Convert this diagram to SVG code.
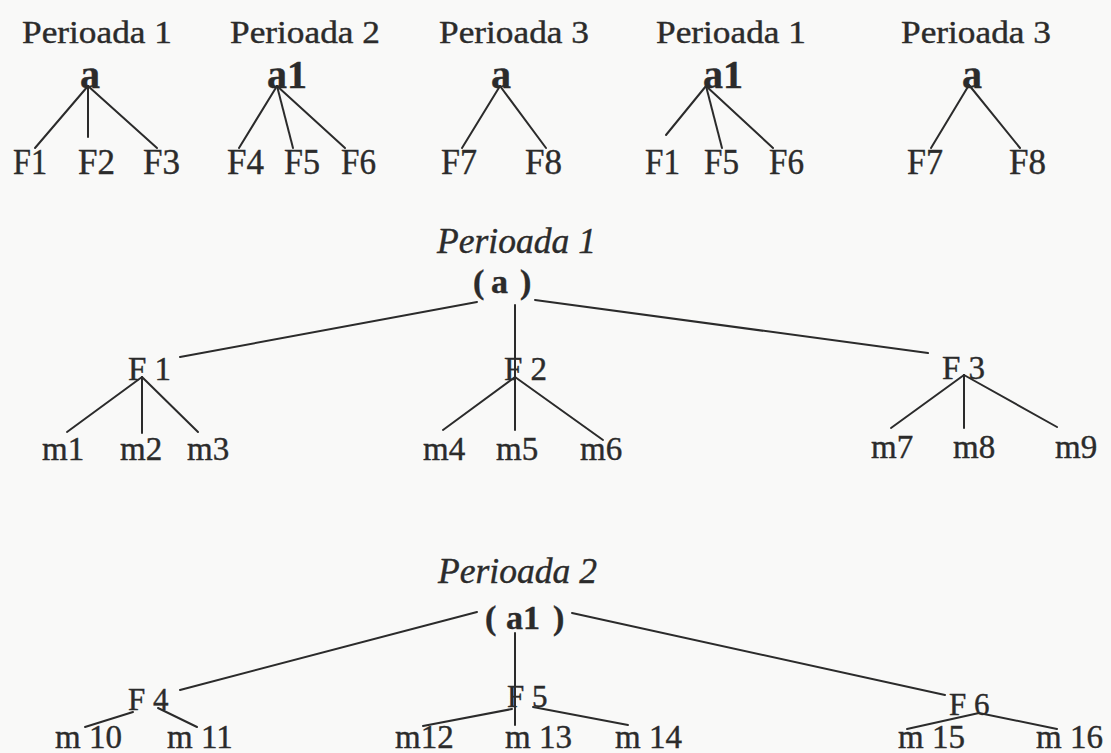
<svg xmlns="http://www.w3.org/2000/svg" width="1111" height="753" viewBox="0 0 1111 753">
<style>
text{font-family:"Liberation Serif","Times New Roman",serif;fill:#2b2b2b;stroke:#2b2b2b;stroke-width:0.4}
.t{font-size:31px}
.r{font-size:40px;font-weight:bold}
.f{font-size:36px}
.it{font-size:35px;font-style:italic}
.rb{font-size:34px;font-weight:bold}
.f2{font-size:33px}
.m{font-size:33px}
.f3{font-size:31px}
.m3{font-size:33px}
#connectors line{stroke:#2b2b2b;stroke-width:2;stroke-linecap:round}
</style>
<rect width="1111" height="753" fill="#f9f9f8"/>
<g id="connectors">
<line x1="88" y1="86" x2="35" y2="148"/><line x1="88" y1="86" x2="88" y2="137"/><line x1="88" y1="86" x2="157" y2="148"/>
<line x1="277" y1="86" x2="239" y2="148"/><line x1="277" y1="86" x2="293" y2="148"/><line x1="277" y1="86" x2="345" y2="148"/>
<line x1="500" y1="86" x2="462" y2="148"/><line x1="500" y1="86" x2="546" y2="148"/>
<line x1="706" y1="86" x2="666" y2="135"/><line x1="706" y1="86" x2="722" y2="148"/><line x1="706" y1="86" x2="773" y2="148"/>
<line x1="969" y1="85" x2="931" y2="148"/><line x1="969" y1="85" x2="1020" y2="148"/>
<line x1="477" y1="302" x2="180" y2="357"/><line x1="515" y1="305" x2="515" y2="430"/><line x1="535" y1="300" x2="928" y2="353"/>
<line x1="142" y1="377" x2="67" y2="432"/><line x1="142" y1="377" x2="142" y2="433"/><line x1="142" y1="377" x2="198" y2="432"/>
<line x1="515" y1="377" x2="443" y2="430"/><line x1="515" y1="377" x2="603" y2="440"/>
<line x1="964" y1="375" x2="891" y2="428"/><line x1="964" y1="375" x2="964" y2="428"/><line x1="964" y1="375" x2="1057" y2="427"/>
<line x1="477" y1="612" x2="180" y2="690"/><line x1="515" y1="633" x2="515" y2="725"/><line x1="572" y1="613" x2="945" y2="695"/>
<line x1="133" y1="712" x2="85" y2="727"/><line x1="158" y1="708" x2="197" y2="727"/>
<line x1="512" y1="709" x2="423" y2="726"/><line x1="533" y1="707" x2="628" y2="725"/>
<line x1="979" y1="713" x2="907" y2="729"/><line x1="979" y1="713" x2="1057" y2="729"/>
</g>
<g id="top1"><text class="t" x="22" y="43" textLength="150" lengthAdjust="spacingAndGlyphs">Perioada 1</text><text class="r" x="80" y="88">a</text><text class="f" x="13" y="174" textLength="34" lengthAdjust="spacingAndGlyphs">F1</text><text class="f" x="78" y="174" textLength="37" lengthAdjust="spacingAndGlyphs">F2</text><text class="f" x="143" y="174" textLength="37" lengthAdjust="spacingAndGlyphs">F3</text></g>
<g id="top2"><text class="t" x="230" y="43" textLength="150" lengthAdjust="spacingAndGlyphs">Perioada 2</text><text class="r" x="267" y="88">a1</text><text class="f" x="227" y="174" textLength="37" lengthAdjust="spacingAndGlyphs">F4</text><text class="f" x="284" y="174" textLength="36" lengthAdjust="spacingAndGlyphs">F5</text><text class="f" x="341" y="174" textLength="35" lengthAdjust="spacingAndGlyphs">F6</text></g>
<g id="top3"><text class="t" x="439" y="43" textLength="150" lengthAdjust="spacingAndGlyphs">Perioada 3</text><text class="r" x="491" y="88">a</text><text class="f" x="441" y="174" textLength="36" lengthAdjust="spacingAndGlyphs">F7</text><text class="f" x="525" y="174" textLength="37" lengthAdjust="spacingAndGlyphs">F8</text></g>
<g id="top4"><text class="t" x="656" y="43" textLength="150" lengthAdjust="spacingAndGlyphs">Perioada 1</text><text class="r" x="703" y="88">a1</text><text class="f" x="645" y="174" textLength="35" lengthAdjust="spacingAndGlyphs">F1</text><text class="f" x="704" y="174" textLength="35" lengthAdjust="spacingAndGlyphs">F5</text><text class="f" x="769" y="174" textLength="35" lengthAdjust="spacingAndGlyphs">F6</text></g>
<g id="top5"><text class="t" x="901" y="43" textLength="150" lengthAdjust="spacingAndGlyphs">Perioada 3</text><text class="r" x="962" y="88">a</text><text class="f" x="907" y="174" textLength="36" lengthAdjust="spacingAndGlyphs">F7</text><text class="f" x="1009" y="174" textLength="37" lengthAdjust="spacingAndGlyphs">F8</text></g>
<g id="mid-title"><text class="it" x="437" y="253" textLength="159" lengthAdjust="spacingAndGlyphs">Perioada 1</text></g>
<g id="mid-root"><text class="rb" y="293"><tspan x="473">(</tspan><tspan x="491">a</tspan><tspan x="520">)</tspan></text></g>
<g id="F1"><text class="f2" x="128" y="380">F 1</text></g>
<g id="F2"><text class="f2" x="504" y="380">F 2</text></g>
<g id="F3"><text class="f2" x="942" y="379">F 3</text></g>
<g id="m1"><text class="m" x="42" y="460">m1</text></g>
<g id="m2"><text class="m" x="120" y="460">m2</text></g>
<g id="m3"><text class="m" x="187" y="460">m3</text></g>
<g id="m4"><text class="m" x="423" y="460">m4</text></g>
<g id="m5"><text class="m" x="496" y="460">m5</text></g>
<g id="m6"><text class="m" x="580" y="460">m6</text></g>
<g id="m7"><text class="m" x="871" y="458">m7</text></g>
<g id="m8"><text class="m" x="953" y="458">m8</text></g>
<g id="m9"><text class="m" x="1055" y="458">m9</text></g>
<g id="bot-title"><text class="it" x="438" y="583" textLength="159" lengthAdjust="spacingAndGlyphs">Perioada 2</text></g>
<g id="bot-root"><text class="rb" y="629"><tspan x="485">(</tspan><tspan x="506">a1</tspan><tspan x="553">)</tspan></text></g>
<g id="F4"><text class="f3" x="128" y="710">F 4</text></g>
<g id="F5"><text class="f3" x="507" y="707">F 5</text></g>
<g id="F6"><text class="f3" x="949" y="715">F 6</text></g>
<g id="m10"><text class="m3" x="55" y="748">m 10</text></g>
<g id="m11"><text class="m3" x="167" y="748">m 11</text></g>
<g id="m12"><text class="m3" x="395" y="748">m12</text></g>
<g id="m13"><text class="m3" x="505" y="748">m 13</text></g>
<g id="m14"><text class="m3" x="615" y="748">m 14</text></g>
<g id="m15"><text class="m3" x="898" y="748">m 15</text></g>
<g id="m16"><text class="m3" x="1036" y="748">m 16</text></g>
</svg>
